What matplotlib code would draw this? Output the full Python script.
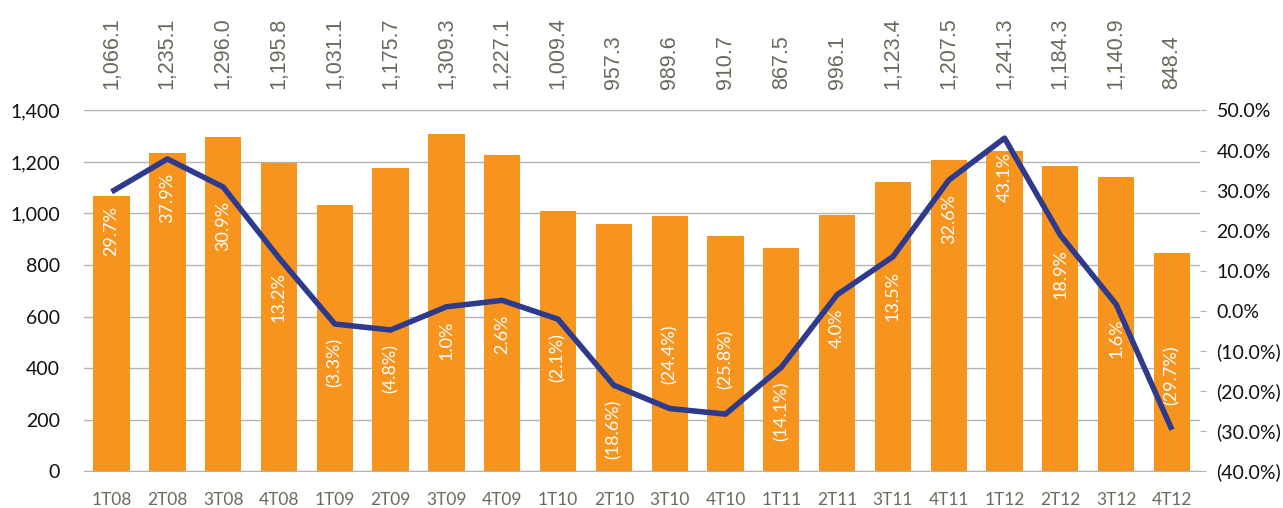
import matplotlib
matplotlib.use('Agg')
from matplotlib import pyplot as plt
from matplotlib.ticker import FuncFormatter

# quarterly data
quarters = ['1T08', '2T08', '3T08', '4T08', '1T09', '2T09', '3T09', '4T09',
            '1T10', '2T10', '3T10', '4T10', '1T11', '2T11', '3T11', '4T11',
            '1T12', '2T12', '3T12', '4T12']
values = [1066.1, 1235.1, 1296.0, 1195.8, 1031.1, 1175.7, 1309.3, 1227.1,
          1009.4, 957.3, 989.6, 910.7, 867.5, 996.1, 1123.4, 1207.5,
          1241.3, 1184.3, 1140.9, 848.4]
growth = [29.7, 37.9, 30.9, 13.2, -3.3, -4.8, 1.0, 2.6,
          -2.1, -18.6, -24.4, -25.8, -14.1, 4.0, 13.5, 32.6,
          43.1, 18.9, 1.6, -29.7]

orange = '#F7941E'
navy = '#2E3A8C'
grey_txt = '#6A6A5C'
grid_col = '#B3B3B3'

plt.rcParams['font.family'] = ['Lato', 'DejaVu Sans']

fig = plt.figure(figsize=(12.83, 5.08), dpi=100)
ax = fig.add_axes([0.0652, 0.0728, 0.870, 0.7097])
x = list(range(len(quarters)))

ax.bar(x, values, width=0.65, color=orange, zorder=2)
ax.set_xlim(-0.5, len(quarters) - 0.5)
ax.set_ylim(0, 1400)
ax.set_yticks(range(0, 1401, 200))
ax.yaxis.set_major_formatter(FuncFormatter(lambda v, p: '{:,.0f}'.format(v)))
ax.grid(axis='y', color=grid_col, linewidth=1, zorder=0)
ax.set_axisbelow(True)
for s in ['top', 'left', 'right']:
    ax.spines[s].set_visible(False)
ax.spines['bottom'].set_color(grid_col)
ax.tick_params(axis='y', length=0, pad=17, labelsize=14, labelcolor='#111111')
ax.set_xticks(x)
ax.set_xticklabels(quarters)
ax.tick_params(axis='x', length=0, pad=15, labelsize=12.5, labelcolor=grey_txt)

# totals written above the plot
for i, v in enumerate(values):
    ax.annotate('{:,.1f}'.format(v), xy=(i, 1), xycoords=('data', 'axes fraction'),
                xytext=(0, 21), textcoords='offset pixels', rotation=90,
                ha='center', va='bottom', fontsize=15.5, color=grey_txt,
                family=['Liberation Sans'], annotation_clip=False)

# growth line on secondary axis
ax2 = ax.twinx()
ax2.plot(x, growth, color=navy, linewidth=4, zorder=3, solid_capstyle='butt')
ax2.set_ylim(-40, 50)
ax2.set_yticks(range(-40, 51, 10))


def pct(v, p):
    if v < 0:
        return '({:.1f}%)'.format(-v)
    return '{:.1f}%'.format(v)


ax2.yaxis.set_major_formatter(FuncFormatter(pct))
for s in ax2.spines.values():
    s.set_visible(False)
ax2.tick_params(axis='y', length=4, color=grid_col, pad=8, labelsize=14,
                labelcolor='#111111')

for i, g in enumerate(growth):
    lbl = pct(g, None)
    if g < -20:
        off, va = 25, 'bottom'
    else:
        off, va = -14, 'top'
    ax2.annotate(lbl, xy=(i, g), xytext=(0, off), textcoords='offset pixels',
                 rotation=90, ha='center', va=va, fontsize=13, color='white',
                 zorder=2)

fig.savefig('out.png', dpi=100)
